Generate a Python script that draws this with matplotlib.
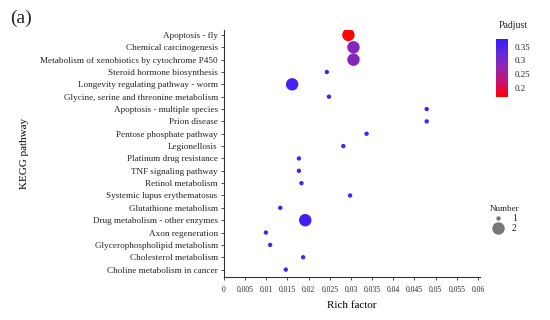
import numpy as np
import matplotlib
matplotlib.use("Agg")
import matplotlib.pyplot as plt
from matplotlib.colors import LinearSegmentedColormap, Normalize
from matplotlib.lines import Line2D

plt.rcParams["font.family"] = ["Liberation Serif", "DejaVu Serif"]
plt.rcParams["text.color"] = "#222222"
plt.rcParams["xtick.labelcolor"] = "#222222"
plt.rcParams["ytick.labelcolor"] = "#222222"

# KEGG terms, top to bottom as drawn
pathways = [
    "Apoptosis - fly",
    "Chemical carcinogenesis",
    "Metabolism of xenobiotics by cytochrome P450",
    "Steroid hormone biosynthesis",
    "Longevity regulating pathway - worm",
    "Glycine, serine and threonine metabolism",
    "Apoptosis - multiple species",
    "Prion disease",
    "Pentose phosphate pathway",
    "Legionellosis",
    "Platinum drug resistance",
    "TNF signaling pathway",
    "Retinol metabolism",
    "Systemic lupus erythematosus",
    "Glutathione metabolism",
    "Drug metabolism - other enzymes",
    "Axon regeneration",
    "Glycerophospholipid metabolism",
    "Cholesterol metabolism",
    "Choline metabolism in cancer",
]
rich_factor = [0.0294, 0.0306, 0.0306, 0.0243, 0.0161, 0.0248, 0.0479, 0.0479,
               0.0337, 0.0282, 0.0177, 0.0177, 0.0183, 0.0298, 0.0133, 0.0192,
               0.0099, 0.0109, 0.0187, 0.0146]
padjust = [0.17, 0.29, 0.29, 0.355, 0.36, 0.355, 0.355, 0.355,
           0.355, 0.355, 0.355, 0.355, 0.355, 0.355, 0.355, 0.365,
           0.355, 0.355, 0.355, 0.355]
number = [2, 2, 2, 1, 2, 1, 1, 1, 1, 1, 1, 1, 1, 1, 1, 2, 1, 1, 1, 1]

x_ticks = [0, 0.005, 0.01, 0.015, 0.02, 0.025, 0.03, 0.035, 0.04, 0.045, 0.05, 0.055, 0.06]
x_tick_labels = ["0", "0.005", "0.01", "0.015", "0.02", "0.025", "0.03", "0.035",
                 "0.04", "0.045", "0.05", "0.055", "0.06"]
cbar_ticks = [0.2, 0.25, 0.3, 0.35]
size_map = {1: 10, 2: 80}

cmap = LinearSegmentedColormap.from_list(
    "rb", ["#ff0000", "#cc0f72", "#9624ae", "#6228dc", "#3a1cff"])
norm = Normalize(vmin=0.167, vmax=0.378)

fig = plt.figure(figsize=(5.5, 3.2), dpi=100)
ax = fig.add_axes([224 / 550, 1 - 277 / 320, (480 - 224) / 550, (277 - 30) / 320])

n = len(pathways)
ypos = np.arange(n)[::-1]
sizes = [size_map[c] for c in number]
ax.scatter(rich_factor, ypos, s=sizes, c=padjust, cmap=cmap, norm=norm,
           edgecolors="none", zorder=3)

ax.set_xlim(0, 0.0605)
ax.set_ylim(-0.6, n - 1 + 0.4)
ax.set_yticks(ypos)
ax.set_yticklabels(pathways, fontsize=6.6)
ax.set_xticks(x_ticks)
ax.set_xticklabels(x_tick_labels, fontsize=5.5)
for s in ["top", "right"]:
    ax.spines[s].set_visible(False)
for s in ["left", "bottom"]:
    ax.spines[s].set_color("#333333")
    ax.spines[s].set_linewidth(0.8)
ax.tick_params(axis="both", length=2.5, width=0.6, color="#333333", pad=2)
ax.tick_params(axis="x", pad=4)
ax.set_xlabel("Rich factor", fontsize=8, labelpad=5)
ax.set_ylabel("KEGG pathway", fontsize=8)
ax.yaxis.set_label_coords(-0.76, 0.5)

fig.text(10 / 550, 1 - 18 / 320, "(a)", fontsize=14, va="center", ha="left")

# colour bar
cax = fig.add_axes([496 / 550, 1 - 97 / 320, 12 / 550, 58 / 320])
sm = plt.cm.ScalarMappable(cmap=cmap, norm=norm)
cb = fig.colorbar(sm, cax=cax, ticks=cbar_ticks)
cb.outline.set_visible(False)
cb.ax.set_yticklabels(["0.2", "0.25", "0.3", "0.35"], fontsize=6.5)
cb.ax.tick_params(length=2, width=0.5, color="white", pad=3)
fig.text(513 / 550, 1 - 25 / 320, "Padjust", fontsize=7, ha="center", va="center")

# size legend
handles = [Line2D([], [], ls="none", marker="o", color="#777777",
                  markersize=np.sqrt(size_map[k]), markeredgewidth=0)
           for k in [1, 2]]
leg = fig.legend(handles, ["1", "2"], title="Number", fontsize=7,
                 title_fontsize=6.5, frameon=False, loc="center",
                 bbox_to_anchor=(505 / 550, 1 - 219 / 320), handletextpad=0.9,
                 labelspacing=0.1, borderpad=0, handlelength=1)

fig.savefig("out.png", dpi=100)
